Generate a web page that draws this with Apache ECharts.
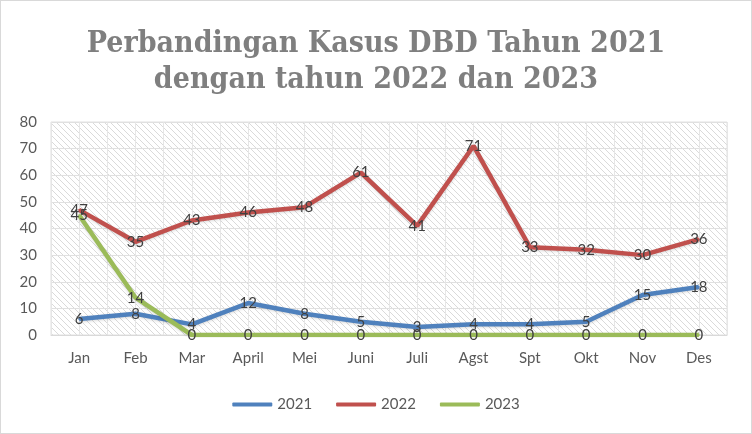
<!DOCTYPE html>
<html><head><meta charset="utf-8">
<script src="https://cdn.jsdelivr.net/npm/echarts@6/dist/echarts.min.js"></script>
<style>html,body{margin:0;padding:0;background:#fff}#c{width:752px;height:434px;box-sizing:border-box;border:1px solid #d9d9d9}</style>
</head><body><div id="c"></div>
<script>
const categories = ['Jan','Feb','Mar','April','Mei','Juni','Juli','Agst','Spt','Okt','Nov','Des'];
const s2021 = [6, 8, 4, 12, 8, 5, 3, 4, 4, 5, 15, 18];
const s2022 = [47, 35, 43, 46, 48, 61, 41, 71, 33, 32, 30, 36];
const s2023 = [45, 14, 0, 0, 0, 0, 0, 0, 0, 0, 0, 0];
const yTicks = [0, 10, 20, 30, 40, 50, 60, 70, 80];

// hatch pattern
const pc = document.createElement('canvas');
pc.width = 6; pc.height = 6;
const g = pc.getContext('2d');
g.fillStyle = '#ffffff'; g.fillRect(0,0,6,6);
g.strokeStyle = '#dadada'; g.lineWidth = 1;
g.beginPath();
g.moveTo(-1,-1); g.lineTo(7,7);
g.moveTo(-4,2); g.lineTo(4,10);
g.moveTo(2,-4); g.lineTo(10,4);
g.stroke();

const chart = echarts.init(document.getElementById('c'));
const lbl = {show:true, position:'inside', color:'#404040', fontSize:15, fontFamily:'Lato, sans-serif'};
function mk(name, data, color){
  return {name, type:'line', data, symbol:'circle', symbolSize:2, showSymbol:true,
    lineStyle:{width:4.5, color, shadowColor:'rgba(0,0,0,0.15)', shadowBlur:3, shadowOffsetY:1},
    itemStyle:{color}, label:lbl, labelLayout:{hideOverlap:false}, z:3};
}
chart.setOption({
  animation:false,
  title:{text:'Perbandingan Kasus DBD Tahun 2021\ndengan tahun 2022 dan 2023', left:'center', top:20,
    textStyle:{fontFamily:'"DejaVu Serif Condensed", serif', fontWeight:'bold', fontSize:30, color:'#7f7f7f', lineHeight:36}},
  legend:{bottom:16, left:'center', itemWidth:40, itemHeight:4, itemGap:24, icon:'roundRect',
    textStyle:{fontFamily:'Lato, sans-serif', fontSize:15, color:'#595959'}, data:['2021','2022','2023']},
  grid:{left:50, right:24, top:121, bottom:98, show:true, backgroundColor:{image:pc, repeat:'repeat'}, borderColor:'#e0e0e0', borderWidth:1},
  xAxis:[{type:'category', data:categories, boundaryGap:true,
    axisLine:{lineStyle:{color:'#d9d9d9'}}, axisTick:{show:false},
    axisLabel:{color:'#595959', fontSize:15, fontFamily:'Lato, sans-serif', margin:16},
    splitLine:{show:false}},
   {type:'value', min:0, max:24, interval:1, show:true, position:'bottom',
    axisLine:{show:false}, axisTick:{show:false}, axisLabel:{show:false},
    splitLine:{show:true, lineStyle:{color:'#e6e6e6', width:1}}}],
  yAxis:{type:'value', min:yTicks[0], max:yTicks[yTicks.length-1], interval:10,
    axisLine:{show:false}, axisTick:{show:false},
    axisLabel:{color:'#595959', fontSize:15, fontFamily:'Lato, sans-serif', margin:14},
    splitLine:{lineStyle:{color:'#e0e0e0', width:1}}},
  series:[mk('2021', s2021, '#4F81BD'), mk('2022', s2022, '#C0504D'), mk('2023', s2023, '#9BBB59')]
});
</script></body></html>
